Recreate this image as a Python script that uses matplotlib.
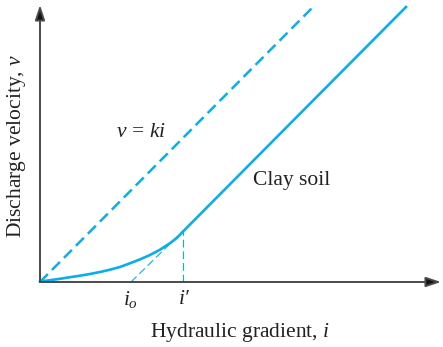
import matplotlib
matplotlib.use("Agg")
import matplotlib.pyplot as plt

plt.rcParams['font.family'] = ['Liberation Serif', 'DejaVu Serif']
plt.rcParams['mathtext.fontset'] = 'custom'
plt.rcParams['mathtext.rm'] = 'Liberation Serif'
plt.rcParams['mathtext.it'] = 'Liberation Serif:italic'

blue = '#0AAEEA'
axis_col = '#4a4a4a'
txt_col = '#222222'

# data (arbitrary units)
ideal_i = [0, 272]
ideal_v = [0, 274]

clay_i = [0, 10, 20, 30, 40, 50, 60, 70, 80, 90, 100, 110, 120, 130, 137, 143, 366]
clay_v = [0.5, 1.8, 3.2, 4.8, 6.3, 8, 10, 12.3, 15, 18.7, 22.6, 27, 32.3, 38.8, 44.2, 50.5, 275]

i_o = 91
i_prime = 143
v_prime = 51

x_end, y_end = 401, 277

fig = plt.figure(figsize=(4.43, 3.47), dpi=100)
ax = fig.add_axes([0, 0, 1, 1])
ax.set_xlim(-40, 403)
ax.set_ylim(-65, 282)
ax.axis('off')

# axes with arrows
for tip in [(x_end, 0), (0, y_end)]:
    ax.annotate('', xy=tip, xytext=(0, 0),
                arrowprops=dict(arrowstyle='-|>,head_length=0.9,head_width=0.3',
                                lw=1.4, shrinkA=0, shrinkB=0,
                                fc='#111111', ec=axis_col))

# v = ki dashed line
ax.plot(ideal_i, ideal_v, color=blue, lw=1.8, dashes=(4.5, 2.3),
        solid_capstyle='butt')

# clay soil curve
ax.plot(clay_i, clay_v, color=blue, lw=1.9, solid_joinstyle='round')

# tangent extension down to i_o and vertical at i'
ax.plot([i_o, i_prime], [0, v_prime], color=blue, lw=0.8, dashes=(7, 3.5))
ax.plot([i_prime, i_prime], [0, v_prime], color=blue, lw=0.8, dashes=(7, 3.5))

# labels
ax.text(101, 150, r'$v\,=\,ki$', fontsize=15.5, ha='center', va='center',
        color=txt_col)
ax.text(252, 101, 'Clay soil', fontsize=15.5, ha='center', va='center',
        color=txt_col)
ax.text(i_o, -18, r'$i_o$', fontsize=15.5, ha='center', va='center',
        color=txt_col)
ax.text(i_prime + 1, -18, 'i\u2032', fontsize=15.5, style='italic',
        ha='center', va='center', color=txt_col)
ax.text(200, -51, r'Hydraulic gradient, $i$', fontsize=15.5, ha='center',
        va='center', color=txt_col)
ax.text(-23, 136, r'Discharge velocity, $v$', fontsize=15.5, ha='center',
        va='center', rotation=90, color=txt_col)

fig.savefig('out.png', dpi=100)
